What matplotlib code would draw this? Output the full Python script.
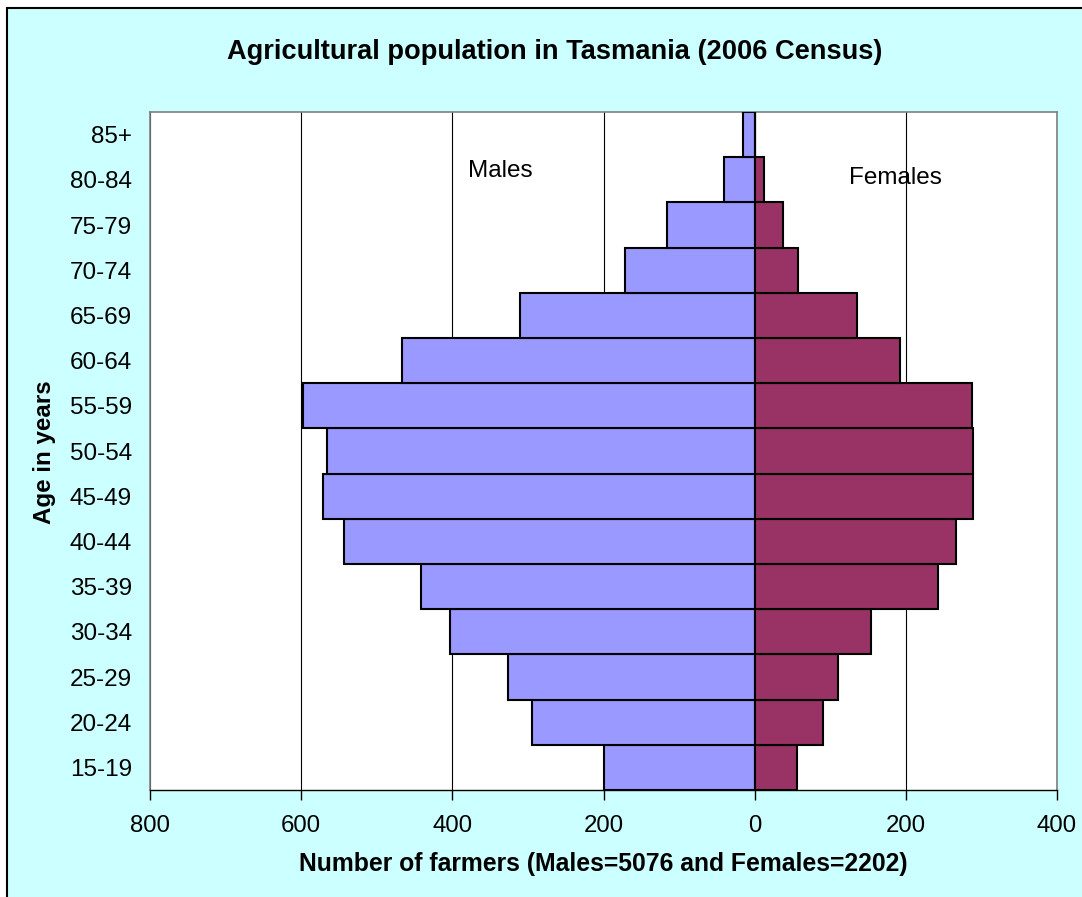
import numpy as np
import matplotlib
matplotlib.use("Agg")
import matplotlib.pyplot as plt
from matplotlib.patches import Rectangle
from matplotlib.ticker import FuncFormatter

plt.rcParams['font.family'] = ['Liberation Sans', 'DejaVu Sans']

# age groups, bottom to top
ages = ['15-19', '20-24', '25-29', '30-34', '35-39', '40-44', '45-49',
        '50-54', '55-59', '60-64', '65-69', '70-74', '75-79', '80-84', '85+']
males = [200, 295, 327, 403, 442, 543, 571, 566, 597, 466, 310, 172, 116, 41, 16]
females = [56, 90, 110, 154, 242, 266, 289, 289, 287, 192, 135, 57, 37, 12, 1]

fig = plt.figure(figsize=(10.82, 8.97), dpi=100, facecolor='white')

# cyan chart area with black frame
bg = Rectangle((7 / 1082, -0.05), 1.1, (897 - 8) / 897 + 0.05,
               transform=fig.transFigure, facecolor='#CCFFFF',
               edgecolor='black', linewidth=1.5, zorder=-10)
fig.patches.append(bg)

ax = fig.add_axes([150 / 1082, 107 / 897, 907 / 1082, 678 / 897])
ax.set_facecolor('white')

y = np.arange(len(ages))
ax.barh(y, -np.array(males), height=1.0, color='#9999FF',
        edgecolor='black', linewidth=1.5, zorder=3)
ax.barh(y, females, height=1.0, color='#993366',
        edgecolor='black', linewidth=1.5, zorder=3)

ax.set_xlim(-800, 400)
ax.set_ylim(-0.5, len(ages) - 0.5)
ax.set_xticks([-800, -600, -400, -200, 0, 200, 400])
ax.xaxis.set_major_formatter(FuncFormatter(lambda v, p: f'{abs(int(v))}'))
ax.set_yticks(y)
ax.set_yticklabels(ages)

ax.grid(axis='x', color='black', linewidth=0.8, zorder=0)
ax.set_axisbelow(True)

for s in ['top', 'right', 'left']:
    ax.spines[s].set_color('#808080')
    ax.spines[s].set_linewidth(1.2)
ax.spines['bottom'].set_color('black')
ax.spines['bottom'].set_linewidth(1.0)

ax.tick_params(axis='x', direction='out', length=7, width=1.0,
               labelsize=17.3, pad=11)
ax.tick_params(axis='y', length=0, labelsize=17.5, pad=13)

ax.text(-337, 13.2, 'Males', fontsize=17.5, ha='center', va='center')
ax.text(186, 13.05, 'Females', fontsize=17.5, ha='center', va='center')

fig.text(555 / 1082, 1 - 52 / 897,
         'Agricultural population in Tasmania (2006 Census)',
         fontsize=19.6, fontweight='bold', ha='center', va='center')
fig.text(603 / 1082, 1 - 864 / 897,
         'Number of farmers (Males=5076 and Females=2202)',
         fontsize=17.8, fontweight='bold', ha='center', va='center')
fig.text(45 / 1082, 1 - 452 / 897, 'Age in years', fontsize=17.4,
         fontweight='bold', rotation=90, ha='center', va='center')

fig.savefig('out.png', dpi=100, facecolor=fig.get_facecolor())
